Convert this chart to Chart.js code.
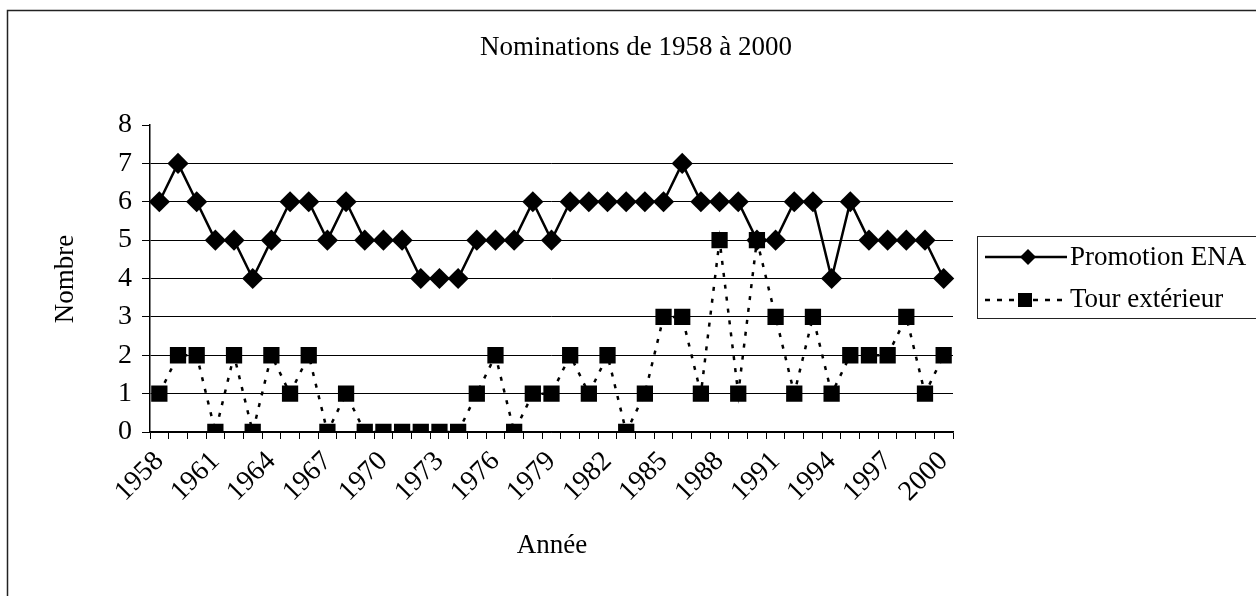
<!DOCTYPE html>
<html>
<head>
<meta charset="utf-8">
<script src="https://cdn.jsdelivr.net/npm/chart.js@4/dist/chart.umd.min.js"></script>
<style>
  html, body { margin: 0; padding: 0; background: #fff; }
  #wrap { position: relative; width: 1256px; height: 596px; }
</style>
</head>
<body>
<div id="wrap"><canvas id="c" width="1256" height="596"></canvas></div>
<script>
const years = [];
for (let y = 1958; y <= 2000; y++) years.push(String(y));

const promotionENA = [6,7,6,5,5,4,5,6,6,5,6,5,5,5,4,4,4,5,5,5,6,5,6,6,6,6,6,6,7,6,6,6,5,5,6,6,4,6,5,5,5,5,4];
const tourExterieur = [1,2,2,0,2,0,2,1,2,0,1,0,0,0,0,0,0,1,2,0,1,1,2,1,2,0,1,3,3,1,5,1,5,3,1,3,1,2,2,2,3,1,2];

const FONT = '"Liberation Serif", "Times New Roman", serif';

// title, axis titles, legend box and outer frame
const decor = {
  id: 'decor',
  afterDraw(chart) {
    const ctx = chart.ctx;
    ctx.save();
    ctx.strokeStyle = '#222';
    ctx.lineWidth = 1.5;
    ctx.beginPath();
    ctx.moveTo(7.5, 596); ctx.lineTo(7.5, 10.5); ctx.lineTo(1256, 10.5);
    ctx.stroke();

    ctx.fillStyle = '#000';
    ctx.font = '27px ' + FONT;
    ctx.textAlign = 'center';
    ctx.textBaseline = 'alphabetic';
    ctx.fillText('Nominations de 1958 à 2000', 636, 55);
    ctx.fillText('Année', 552, 553);

    ctx.save();
    ctx.translate(73, 279);
    ctx.rotate(-Math.PI / 2);
    ctx.fillText('Nombre', 0, 0);
    ctx.restore();

    // legend
    ctx.strokeStyle = '#222';
    ctx.lineWidth = 1;
    ctx.strokeRect(977.5, 236.5, 300, 82);
    ctx.textAlign = 'left';
    ctx.textBaseline = 'middle';
    ctx.fillText('Promotion ENA', 1070, 258);
    ctx.fillText('Tour extérieur', 1070, 300);

    ctx.strokeStyle = '#000';
    ctx.lineWidth = 2.5;
    ctx.beginPath();
    ctx.moveTo(985, 257); ctx.lineTo(1067, 257);
    ctx.stroke();
    ctx.setLineDash([5, 7]);
    ctx.beginPath();
    ctx.moveTo(985, 300); ctx.lineTo(1067, 300);
    ctx.stroke();
    ctx.setLineDash([]);

    ctx.beginPath();
    ctx.moveTo(1028, 249); ctx.lineTo(1036, 257); ctx.lineTo(1028, 265); ctx.lineTo(1020, 257);
    ctx.closePath();
    ctx.fill();
    ctx.fillRect(1018, 293, 14, 14);
    ctx.restore();
  }
};

new Chart(document.getElementById('c'), {
  type: 'line',
  data: {
    labels: years,
    datasets: [
      {
        label: 'Promotion ENA',
        data: promotionENA,
        borderColor: '#000',
        backgroundColor: '#000',
        borderWidth: 2.5,
        pointStyle: 'rectRot',
        pointRadius: 10.6,
        pointBorderWidth: 0,
        tension: 0,
        order: 1
      },
      {
        label: 'Tour extérieur',
        data: tourExterieur,
        borderColor: '#000',
        backgroundColor: '#000',
        borderWidth: 2.5,
        borderDash: [4, 8],
        pointStyle: 'rect',
        pointRadius: 11.5,
        pointBorderWidth: 0,
        tension: 0,
        order: 0
      }
    ]
  },
  options: {
    responsive: false,
    animation: false,
    layout: { padding: { left: 0, top: 125, right: 303, bottom: 0 } },
    plugins: {
      legend: { display: false },
      title: { display: false },
      tooltip: { enabled: false }
    },
    scales: {
      x: {
        offset: true,
        grid: {
          offset: true,
          drawOnChartArea: false,
          drawTicks: true,
          tickLength: 7,
          tickColor: '#000',
          lineWidth: 1
        },
        border: { color: '#000', width: 1.5 },
        ticks: {
          autoSkip: false,
          minRotation: 45,
          maxRotation: 45,
          padding: 6,
          color: '#000',
          font: { family: FONT, size: 28 },
          callback: (v, i) => (i % 3 === 0 ? years[i] : '')
        },
        afterFit: (s) => { s.height = 164; }
      },
      y: {
        min: 0,
        max: 8,
        ticks: {
          stepSize: 1,
          padding: 10,
          color: '#000',
          font: { family: FONT, size: 28 }
        },
        grid: {
          color: (c) => (c.tick && c.tick.value === 8 ? 'rgba(0,0,0,0)' : '#000'),
          tickColor: '#000',
          tickLength: 8,
          lineWidth: 1
        },
        border: { color: '#000', width: 1.5 },
        afterFit: (s) => { s.width = 150; }
      }
    }
  },
  plugins: [decor]
});
</script>
</body>
</html>
